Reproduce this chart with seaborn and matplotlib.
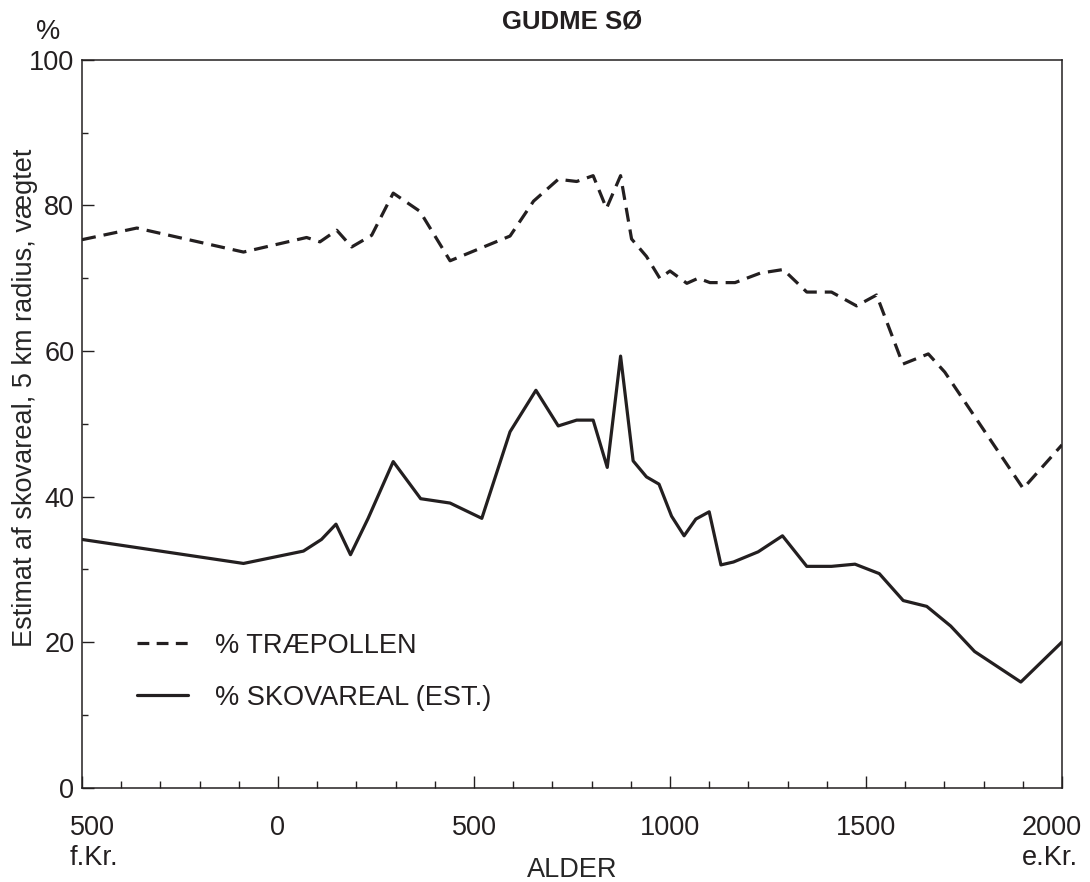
import matplotlib
matplotlib.use("Agg")
import matplotlib.pyplot as plt
import matplotlib.transforms as mtransforms
from matplotlib.lines import Line2D
import seaborn as sns
import pandas as pd

# ---- data ----
trae_years = [-500, -360, -88, 73, 107, 150, 188, 239, 294, 362, 439, 592, 652, 715,
              762, 804, 838, 874, 902, 940, 974, 1000, 1043, 1072, 1102, 1166, 1230,
              1289, 1349, 1412, 1476, 1527, 1594, 1659, 1701, 1901, 2000]
trae_pct = [75.3, 76.9, 73.6, 75.6, 75.0, 76.6, 74.3, 75.9, 81.7, 79.2, 72.4, 75.8, 80.6, 83.6,
            83.3, 84.1, 79.6, 84.1, 75.4, 73.0, 70.0, 71.0, 69.3, 70.0, 69.4, 69.4, 70.7,
            71.2, 68.1, 68.1, 66.2, 67.7, 58.2, 59.6, 57.1, 41.1, 47.1]

skov_years = [-500, -88, 65, 111, 148, 185, 230, 294, 364, 439, 520, 592, 658, 715, 762,
              804, 840, 874, 906, 940, 972, 1004, 1036, 1066, 1100, 1130, 1162, 1225,
              1287, 1349, 1412, 1472, 1534, 1595, 1655, 1716, 1777, 1895, 2000]
skov_pct = [34.1, 30.8, 32.5, 34.1, 36.2, 32.0, 37.0, 44.8, 39.7, 39.1, 37.0, 48.9, 54.6, 49.7, 50.5,
            50.5, 44.0, 59.3, 44.9, 42.7, 41.7, 37.3, 34.6, 36.9, 37.9, 30.6, 31.0, 32.4,
            34.6, 30.4, 30.4, 30.7, 29.4, 25.7, 24.9, 22.2, 18.7, 14.5, 20.0]

x_ticks = [-500, 0, 500, 1000, 1500, 2000]
x_ticklabels = ["500\nf.Kr.", "0", "500", "1000", "1500", "2000\ne.Kr."]
y_ticks = [0, 20, 40, 60, 80, 100]
legend_labels = ["% TRÆPOLLEN", "% SKOVAREAL (EST.)"]
title = "GUDME SØ"
xlabel = "ALDER"
ylabel = "Estimat af skovareal, 5 km radius, vægtet"

# ---- style ----
sns.set_style("ticks")
plt.rcParams["font.family"] = ["Liberation Sans", "DejaVu Sans"]
INK = "#231f20"
plt.rcParams["text.color"] = INK
plt.rcParams["axes.edgecolor"] = INK
plt.rcParams["xtick.color"] = INK
plt.rcParams["ytick.color"] = INK
FS = 19.5

fig = plt.figure(figsize=(10.9, 8.82), dpi=100)
ax = fig.add_axes([0.0752, 0.1071, 0.8991, 0.8249])

df_t = pd.DataFrame({"year": trae_years, "pct": trae_pct})
df_s = pd.DataFrame({"year": skov_years, "pct": skov_pct})

sns.lineplot(data=df_t, x="year", y="pct", ax=ax, color=INK, lw=2.3, sort=False)
sns.lineplot(data=df_s, x="year", y="pct", ax=ax, color=INK, lw=2.3, sort=False)
lines = ax.get_lines()
lines[0].set_dashes((4.4, 2.5))
lines[0].set_solid_capstyle("butt")

ax.set_xlim(-500, 2000)
ax.set_ylim(0, 100)

for s in ax.spines.values():
    s.set_linewidth(1.1)
    s.set_visible(True)

ax.set_xticks(x_ticks)
ax.set_xticklabels(x_ticklabels, fontsize=FS, multialignment="left", linespacing=1.2)
ax.set_xticks(list(range(-500, 2001, 100)), minor=True)
ax.set_yticks(y_ticks)
ax.set_yticklabels([str(v) for v in y_ticks], fontsize=FS)
ax.set_yticks(list(range(0, 101, 10)), minor=True)
ax.tick_params(axis="x", which="major", direction="in", length=9, width=1.0, pad=20)
ax.tick_params(axis="x", which="minor", direction="in", length=4.9, width=1.0)
ax.tick_params(axis="y", which="major", direction="in", length=8.6, width=1.0, pad=5.5)
ax.tick_params(axis="y", which="minor", direction="in", length=4.3, width=1.0)

# shift end labels inward as in reference
xl = ax.get_xticklabels()
xl[0].set_transform(xl[0].get_transform() + mtransforms.ScaledTranslation(12 / 100, 0, fig.dpi_scale_trans))
xl[-1].set_transform(xl[-1].get_transform() + mtransforms.ScaledTranslation(-10 / 100, 0, fig.dpi_scale_trans))

ax.set_xlabel(xlabel, fontsize=FS)
ax.xaxis.set_label_coords(0.5, -0.095)
ax.set_ylabel(ylabel, fontsize=FS)
ax.yaxis.set_label_coords(-0.045, 0.535)
ax.set_title(title, fontsize=18.5, fontweight="bold", pad=23)
ax.text(-0.035, 1.039, "%", transform=ax.transAxes, ha="center", va="center", fontsize=FS)

h1 = Line2D([], [], color=INK, lw=2.3, dashes=(3.7, 2.3), solid_capstyle="butt")
h2 = Line2D([], [], color=INK, lw=2.3)
ax.legend([h1, h2], legend_labels, loc="upper left", bbox_to_anchor=(0.0561, 0.2125),
          frameon=False, fontsize=FS, handlelength=1.89, handletextpad=1.0,
          labelspacing=0.95, borderpad=0, borderaxespad=0)

fig.savefig("out.png", dpi=100)
